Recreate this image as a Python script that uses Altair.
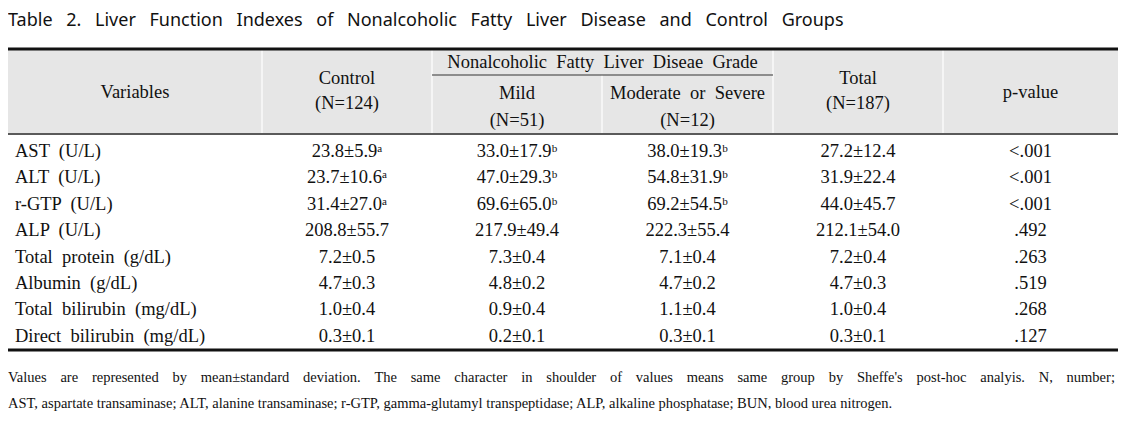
import altair as alt
import pandas as pd

# ---------------- data ----------------
title = "Table 2. Liver Function Indexes of Nonalcoholic Fatty Liver Disease and Control Groups"

variables = ["AST (U/L)", "ALT (U/L)", "r-GTP (U/L)", "ALP (U/L)",
             "Total protein (g/dL)", "Albumin (g/dL)",
             "Total bilirubin (mg/dL)", "Direct bilirubin (mg/dL)"]
control = ["23.8±5.9ᵃ", "23.7±10.6ᵃ", "31.4±27.0ᵃ", "208.8±55.7",
           "7.2±0.5", "4.7±0.3", "1.0±0.4", "0.3±0.1"]
mild = ["33.0±17.9ᵇ", "47.0±29.3ᵇ", "69.6±65.0ᵇ", "217.9±49.4",
        "7.3±0.4", "4.8±0.2", "0.9±0.4", "0.2±0.1"]
moderate = ["38.0±19.3ᵇ", "54.8±31.9ᵇ", "69.2±54.5ᵇ", "222.3±55.4",
            "7.1±0.4", "4.7±0.2", "1.1±0.4", "0.3±0.1"]
total = ["27.2±12.4", "31.9±22.4", "44.0±45.7", "212.1±54.0",
         "7.2±0.4", "4.7±0.3", "1.0±0.4", "0.3±0.1"]
pvalue = ["<.001", "<.001", "<.001", ".492", ".263", ".519", ".268", ".127"]

header_group = "Nonalcoholic Fatty Liver Diseae Grade"
header_cols = ["Variables", "Control", "Mild", "Moderate or Severe", "Total", "p-value"]
header_ns = ["", "(N=124)", "(N=51)", "(N=12)", "(N=187)", ""]

footnotes = [
    "Values are represented by mean±standard deviation. The same character in shoulder of values means same group by Sheffe's post-hoc analyis. N, number;",
    "AST, aspartate transaminase; ALT, alanine transaminase; r-GTP, gamma-glutamyl transpeptidase; ALP, alkaline phosphatase; BUN, blood urea nitrogen.",
]

# ---------------- typographic word spacing (rendering only) ----------------
def wide(s, extra="\u2005"):
    return s.replace(" ", " " + extra)

# ---------------- layout (page pixels, shifted by the 8px margin) ----------------
W, H = 1116, 405
OFF = 8
edges = [e - OFF for e in [8, 262, 432, 602, 773, 943, 1118]]
centers = [(a + b) / 2 for a, b in zip(edges[:-1], edges[1:])]
y_top, y_sub, y_head, y_bot = 49 - OFF, 75 - OFF, 134 - OFF, 350 - OFF
row_y0, row_h = 151 - OFF, 26.4
y_title = 21 - OFF
y_foot = [378 - OFF, 404 - OFF]

X = lambda f="x": alt.X(f"{f}:Q", scale=alt.Scale(domain=[0, W], nice=False, zero=False), axis=None)
Y = lambda f="y": alt.Y(f"{f}:Q", scale=alt.Scale(domain=[0, H], nice=False, zero=False, reverse=True), axis=None)

SERIF = "Liberation Serif"
SANS = "Noto Sans"
FS = 18.5

# header background
bg = alt.Chart(pd.DataFrame([{"x": edges[0], "x2": edges[-1], "y": y_top, "y2": y_head}])).mark_rect(
    color="#e6e6e6").encode(x=X(), x2="x2:Q", y=Y(), y2="y2:Q")

# white separators in header
seps = [{"x": edges[i], "x2": edges[i], "y": y_top, "y2": y_head} for i in (1, 2, 4, 5)]
seps.append({"x": edges[3], "x2": edges[3], "y": y_sub, "y2": y_head})
sep_layer = alt.Chart(pd.DataFrame(seps)).mark_rule(color="#fafafa", strokeWidth=1.5).encode(
    x=X(), x2="x2:Q", y=Y(), y2="y2:Q")

sub = alt.Chart(pd.DataFrame([{"x": edges[2], "x2": edges[4], "y": y_sub, "y2": y_sub}])).mark_rule(
    color="#333333", strokeWidth=1.2).encode(x=X(), x2="x2:Q", y=Y(), y2="y2:Q")

thick = alt.Chart(pd.DataFrame([{"x": edges[0], "x2": edges[-1], "y": y_top, "y2": y_top},
                                {"x": edges[0], "x2": edges[-1], "y": y_bot, "y2": y_bot}])).mark_rule(
    color="#111111", strokeWidth=3).encode(x=X(), x2="x2:Q", y=Y(), y2="y2:Q")

headline = alt.Chart(pd.DataFrame([{"x": edges[0], "x2": edges[-1], "y": y_head, "y2": y_head}])).mark_rule(
    color="#5a5a5a", strokeWidth=2).encode(x=X(), x2="x2:Q", y=Y(), y2="y2:Q")

# title
title_layer = alt.Chart(pd.DataFrame([{"x": 0, "y": y_title, "t": wide(title, "\u2002")}])).mark_text(
    align="left", baseline="middle", font=SANS, fontSize=18, color="#111111").encode(
    x=X(), y=Y(), text="t:N")

# header texts
hdr = []
mid = (y_top + y_head) / 2
hdr.append({"x": centers[0], "y": mid, "t": header_cols[0]})
for i in (1, 4):
    hdr.append({"x": centers[i], "y": 78 - OFF, "t": header_cols[i]})
    hdr.append({"x": centers[i], "y": 103 - OFF, "t": header_ns[i]})
for i in (2, 3):
    hdr.append({"x": centers[i], "y": 93 - OFF, "t": header_cols[i]})
    hdr.append({"x": centers[i], "y": 120 - OFF, "t": header_ns[i]})
hdr.append({"x": centers[5], "y": mid, "t": header_cols[5]})
hdr.append({"x": (edges[2] + edges[4]) / 2, "y": 62 - OFF, "t": header_group})
for h in hdr:
    h["t"] = wide(h["t"])

# body cells
cells = []
for c, col in enumerate([control, mild, moderate, total, pvalue], start=1):
    for r, v in enumerate(col):
        cells.append({"x": centers[c], "y": row_y0 + r * row_h, "t": v})

center_text = alt.Chart(pd.DataFrame(hdr + cells)).mark_text(
    align="center", baseline="middle", font=SERIF, fontSize=FS, color="#111111").encode(
    x=X(), y=Y(), text="t:N")

labels = alt.Chart(pd.DataFrame([{"x": 7, "y": row_y0 + r * row_h, "t": wide(v)}
                                 for r, v in enumerate(variables)])).mark_text(
    align="left", baseline="middle", font=SERIF, fontSize=FS, color="#111111").encode(
    x=X(), y=Y(), text="t:N")

foot_rows = [{"x": 0, "y": y_foot[0], "t": wide(footnotes[0], "\u2002\u2009")},
             {"x": 0, "y": y_foot[1], "t": footnotes[1]}]
foot = alt.Chart(pd.DataFrame(foot_rows)).mark_text(
    align="left", baseline="middle", font=SERIF, fontSize=14.5, color="#111111").encode(
    x=X(), y=Y(), text="t:N")

chart = alt.layer(bg, sep_layer, sub, headline, thick, title_layer, center_text, labels, foot).properties(
    width=W, height=H, padding=0, autosize="none", background="white"
).configure_view(stroke=None)

chart.save("out.html", embed_options={"renderer": "svg", "actions": False})
